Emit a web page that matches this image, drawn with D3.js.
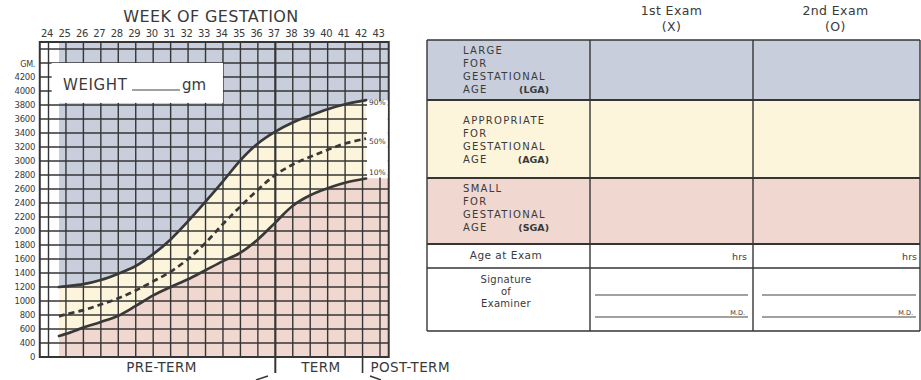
<!DOCTYPE html>
<html>
<head>
<meta charset="utf-8">
<script src="https://cdn.jsdelivr.net/npm/d3@7"></script>
<style>
  html, body { margin: 0; padding: 0; background: #fff; }
  svg { display: block; }
  text { font-family: "DejaVu Sans", "Noto Sans", sans-serif; fill: #3a3a3a; }
</style>
</head>
<body>
<svg id="chart" width="921" height="380"></svg>
<script>
// Gestational age (weeks) at which each percentile point is read
const weeks = [24.6, 25, 26, 27, 28, 29, 30, 31, 32, 33, 34, 35, 36, 37, 38, 39, 40, 41, 42.2];
// Birth weight percentiles (grams)
const p90 = [1200, 1210, 1240, 1300, 1390, 1500, 1670, 1880, 2140, 2420, 2710, 3010, 3250, 3420, 3550, 3650, 3740, 3810, 3870];
const p50 = [780, 810, 870, 950, 1040, 1150, 1280, 1420, 1600, 1830, 2100, 2350, 2590, 2800, 2950, 3060, 3160, 3250, 3320];
const p10 = [500, 530, 620, 700, 790, 930, 1080, 1200, 1310, 1440, 1570, 1690, 1880, 2120, 2360, 2510, 2610, 2690, 2750];
const percentileLabels = ["90%", "50%", "10%"];

// Axis labels
const weekLabels = [24, 25, 26, 27, 28, 29, 30, 31, 32, 33, 34, 35, 36, 37, 38, 39, 40, 41, 42, 43];
const weightTicks = [0, 400, 600, 800, 1000, 1200, 1400, 1600, 1800, 2000, 2200, 2400, 2600, 2800, 3000, 3200, 3400, 3600, 3800, 4000, 4200];
const gridWeights = [400, 600, 800, 1000, 1200, 1400, 1600, 1800, 2000, 2200, 2400, 2600, 2800, 3000, 3200, 3400, 3600, 3800, 4000, 4200, 4400, 4600];
const periods = ["PRE-TERM", "TERM", "POST-TERM"];

// Classification table
const examHeaders = [["1st Exam", "(X)"], ["2nd Exam", "(O)"]];
const classRows = [
  { lines: ["LARGE", "FOR", "GESTATIONAL", "AGE"], code: "(LGA)" },
  { lines: ["APPROPRIATE", "FOR", "GESTATIONAL", "AGE"], code: "(AGA)" },
  { lines: ["SMALL", "FOR", "GESTATIONAL", "AGE"], code: "(SGA)" }
];

const C = {
  blue: "#c8cedb",
  yellow: "#fcf5dc",
  pink: "#f0d7cf",
  grid: "#353535",
  curve: "#383838"
};

const svg = d3.select("#chart");

// ---------- Growth chart ----------
const WMIN = 23.5, WMAX = 43.5, GMAX = 4700;
const x = d3.scaleLinear().domain([24, 43]).range([48.5, 380]);
const y = d3.scaleLinear().domain([0, 400, GMAX]).range([357, 343, 42]);

const pts = weeks.map((w, i) => ({ w, p90: p90[i], p50: p50[i], p10: p10[i] }));
const last = pts[pts.length - 1];
const ext = pts.concat([{ w: WMAX, p90: last.p90, p50: last.p50, p10: last.p10 }]);
const smooth = d3.curveCatmullRom.alpha(0.5);

const chart = svg.append("g");

// LGA region (above 90th percentile)
chart.append("path")
  .datum(ext)
  .attr("fill", C.blue)
  .attr("d", d3.area().curve(smooth)
    .x(d => x(d.w)).y0(y(GMAX)).y1(d => y(d.p90)));

// SGA region (below 10th percentile)
chart.append("path")
  .datum(ext)
  .attr("fill", C.pink)
  .attr("d", d3.area().curve(smooth)
    .x(d => x(d.w)).y0(y(0)).y1(d => y(d.p10)));

// AGA band
chart.append("path")
  .datum(pts)
  .attr("fill", C.yellow)
  .attr("d", d3.area().curve(smooth)
    .x(d => x(d.w)).y0(d => y(d.p10)).y1(d => y(d.p90)));

// Grid
const grid = chart.append("g").attr("stroke", C.grid).attr("stroke-width", 1.4);
grid.selectAll("line.v").data(weekLabels).join("line")
  .attr("x1", d => x(d)).attr("x2", d => x(d))
  .attr("y1", y(GMAX)).attr("y2", y(0))
  .attr("stroke-width", d => d === 37 ? 2.2 : 1.4);
grid.selectAll("line.h").data(gridWeights).join("line")
  .attr("x1", x(WMIN)).attr("x2", x(WMAX))
  .attr("y1", d => y(d)).attr("y2", d => y(d));
chart.append("rect")
  .attr("x", x(WMIN)).attr("y", y(GMAX))
  .attr("width", x(WMAX) - x(WMIN)).attr("height", y(0) - y(GMAX))
  .attr("fill", "none").attr("stroke", C.grid).attr("stroke-width", 2);

// Term boundaries extend below the grid
[37, 42].forEach(w => {
  chart.append("line")
    .attr("x1", x(w)).attr("x2", x(w))
    .attr("y1", y(0)).attr("y2", 373)
    .attr("stroke", C.grid).attr("stroke-width", w === 37 ? 2 : 1.6);
});

// Weight entry box
const box = chart.append("g");
box.append("rect")
  .attr("x", x(24.18)).attr("y", y(4400))
  .attr("width", x(34) - x(24.18)).attr("height", y(3830) - y(4400))
  .attr("fill", "#fff");
box.append("text")
  .attr("x", 63).attr("y", 90)
  .attr("font-size", 15).attr("letter-spacing", 0.6).attr("fill", "#444")
  .text("WEIGHT");
box.append("line")
  .attr("x1", 132).attr("x2", 180).attr("y1", 90).attr("y2", 90)
  .attr("stroke", "#444").attr("stroke-width", 1.2);
box.append("text")
  .attr("x", 182).attr("y", 90)
  .attr("font-size", 15).attr("fill", "#444")
  .text("gm");

// Percentile curves
const line = key => d3.line().curve(smooth).x(d => x(d.w)).y(d => y(d[key]));
chart.append("path").datum(pts)
  .attr("fill", "none").attr("stroke", C.curve).attr("stroke-width", 2.7)
  .attr("stroke-linecap", "round")
  .attr("d", line("p90"));
chart.append("path").datum(pts)
  .attr("fill", "none").attr("stroke", C.curve).attr("stroke-width", 2.7)
  .attr("stroke-linecap", "round")
  .attr("d", line("p10"));
chart.append("path").datum(pts)
  .attr("fill", "none").attr("stroke", C.curve).attr("stroke-width", 2.7)
  .attr("stroke-dasharray", "6,4")
  .attr("d", line("p50"));

// Percentile labels at the curve ends (on a white patch)
chart.append("rect")
  .attr("x", x(last.w) + 1).attr("y", y(last.p90) + 1)
  .attr("width", x(WMAX) - x(last.w) - 2).attr("height", y(last.p10) - y(last.p90) - 2)
  .attr("fill", "#fff");
[last.p90, last.p50, last.p10].forEach((v, i) => {
  chart.append("text")
    .attr("x", x(last.w) + 3).attr("y", y(v) + (i === 2 ? -4 : 5))
    .attr("font-size", 7.5).attr("fill", "#555")
    .text(percentileLabels[i]);
});

// Top axis: week of gestation
chart.append("text")
  .attr("x", 211).attr("y", 22)
  .attr("text-anchor", "middle").attr("font-size", 16)
  .attr("letter-spacing", 0.4)
  .text("WEEK OF GESTATION");
chart.selectAll("text.wk").data(weekLabels).join("text")
  .attr("class", "wk")
  .attr("x", d => x(d) - 1.5).attr("y", 37)
  .attr("text-anchor", "middle").attr("font-size", 10)
  .attr("letter-spacing", -0.4)
  .text(d => d);

// Left axis: weight in grams
chart.selectAll("text.gm").data(weightTicks).join("text")
  .attr("class", "gm")
  .attr("x", 35).attr("y", d => y(d) + 3)
  .attr("text-anchor", "end").attr("font-size", 8.5)
  .attr("letter-spacing", -0.3)
  .text(d => d);
chart.append("text")
  .attr("x", 35).attr("y", 67)
  .attr("text-anchor", "end").attr("font-size", 8)
  .attr("letter-spacing", -0.3)
  .text("GM.");

// Period labels under the grid
const periodX = [(x(WMIN) + x(37)) / 2 + 4, (x(37) + x(42)) / 2 + 2, x(42) + 8];
periods.forEach((p, i) => {
  chart.append("text")
    .attr("x", periodX[i]).attr("y", 372)
    .attr("text-anchor", i === 2 ? "start" : "middle")
    .attr("font-size", 13.5).attr("letter-spacing", 0.4)
    .text(p);
});
// Arrow tips pointing into the term period
chart.append("path")
  .attr("d", "M268,376 L256,380")
  .attr("fill", "none").attr("stroke", C.grid).attr("stroke-width", 1.4);
chart.append("path")
  .attr("d", "M370,376 L381,380")
  .attr("fill", "none").attr("stroke", C.grid).attr("stroke-width", 1.4);

// ---------- Classification table ----------
const T = { left: 427, right: 920, c1: 590, c2: 753 };
const rowY = [40, 100, 178, 244, 268, 331];
const rowFill = [C.blue, C.yellow, C.pink, "#fff", "#fff"];
const table = svg.append("g");

table.selectAll("rect.row").data(rowFill).join("rect")
  .attr("x", T.left).attr("y", (d, i) => rowY[i])
  .attr("width", T.right - T.left).attr("height", (d, i) => rowY[i + 1] - rowY[i])
  .attr("fill", d => d);

// Row separators
table.selectAll("line.rs").data(rowY).join("line")
  .attr("x1", T.left).attr("x2", T.right)
  .attr("y1", d => d).attr("y2", d => d)
  .attr("stroke", C.grid)
  .attr("stroke-width", (d, i) => (i >= 1 && i <= 3) ? 2 : 1.4);
// Column separators
[T.left, T.c1, T.c2, T.right].forEach(cx => {
  table.append("line")
    .attr("x1", cx).attr("x2", cx)
    .attr("y1", rowY[0]).attr("y2", rowY[5])
    .attr("stroke", C.grid).attr("stroke-width", 1.4);
});

// Exam headers
examHeaders.forEach((h, i) => {
  const cx = i === 0 ? (T.c1 + T.c2) / 2 : (T.c2 + T.right) / 2 - 1;
  h.forEach((t, j) => {
    table.append("text")
      .attr("x", cx).attr("y", 15 + j * 16)
      .attr("text-anchor", "middle").attr("font-size", 12.5)
      .attr("letter-spacing", 0.4)
      .text(t);
  });
});

// Classification labels
classRows.forEach((r, i) => {
  const top = rowY[i];
  const base = i === 1 ? top + 24 : top + 14;
  r.lines.forEach((t, j) => {
    table.append("text")
      .attr("x", 463).attr("y", base + j * 13)
      .attr("font-size", 10).attr("letter-spacing", 1.3).attr("fill", "#505050")
      .text(t);
  });
  table.append("text")
    .attr("x", 549).attr("y", base + 3 * 13)
    .attr("text-anchor", "end").attr("font-size", 9.5)
    .attr("font-weight", "bold").attr("fill", "#505050")
    .text(r.code);
});

// Age at exam
table.append("text")
  .attr("x", 506).attr("y", 259)
  .attr("text-anchor", "middle").attr("font-size", 10.5)
  .attr("letter-spacing", 0.5)
  .text("Age at Exam");
[T.c2 - 6, T.right - 3].forEach(rx => {
  table.append("text")
    .attr("x", rx).attr("y", 260)
    .attr("text-anchor", "end").attr("font-size", 9.5)
    .text("hrs");
});

// Signature of examiner
["Signature", "of", "Examiner"].forEach((t, j) => {
  table.append("text")
    .attr("x", 506).attr("y", 283 + j * 12)
    .attr("text-anchor", "middle").attr("font-size", 10)
    .attr("letter-spacing", 0.3)
    .text(t);
});
[[595, 748], [762, 916]].forEach(([a, b]) => {
  [295, 317].forEach(ly => {
    table.append("line")
      .attr("x1", a).attr("x2", b).attr("y1", ly).attr("y2", ly)
      .attr("stroke", "#444").attr("stroke-width", 1.2);
  });
  table.append("text")
    .attr("x", b - 3).attr("y", 315)
    .attr("text-anchor", "end").attr("font-size", 6.5)
    .text("M.D.");
});
</script>
</body>
</html>
